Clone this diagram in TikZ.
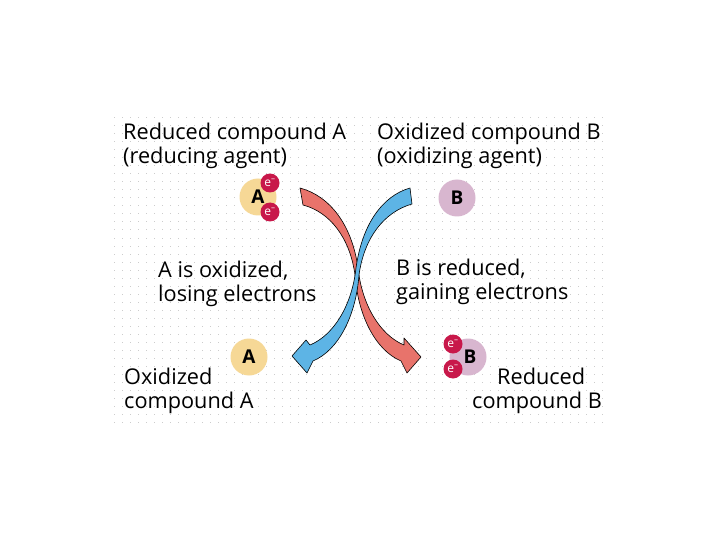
\documentclass[tikz,border=0pt]{standalone}
\usepackage[dvipsnames]{xcolor}
\usepackage{fontspec}
\setmainfont{Open Sans}
\usepackage{tikz}
\usetikzlibrary{calc}
\definecolor{redarrow}{HTML}{E8736B}
\definecolor{bluearrow}{HTML}{5DB4E5}
\definecolor{electron}{HTML}{C8184A}
\definecolor{atomA}{HTML}{F6D896}
\definecolor{atomB}{HTML}{D8B6CF}

\begin{document}
\begin{tikzpicture} [x = 1pt, y = -1pt,
                lbl/.style = {inner sep = 0pt, anchor = base west, align = left, font = \fontsize{21.7}{24}\selectfont},
                atom/.style = {circle, inner sep = 0pt, minimum size = 37pt, font = \fontsize{19}{19}\selectfont\bfseries},
                elec/.style = {circle, fill = electron, inner sep = 0pt, minimum size = 19pt, text = white, font = \fontsize{12}{12}\selectfont}]
                \useasboundingbox (0,0) rectangle (720,540);
                \fill [white] (0,0) rectangle (720,540);
                \foreach \y in {118,126,...,422}
                  \draw [black!20, line width = 1pt, dash pattern = on 1pt off 7pt] (114,\y) -- (606,\y);
                \node [lbl] (redA) at (123,164) {Reduced compound A\\(reducing agent)};
                \node [lbl] (oxB) at (377,164) {Oxidized compound B\\(oxidizing agent)};
                \node [lbl] (loseA) at (158,301) {A is oxidized,\\losing electrons};
                \node [lbl] (gainB) at (396,299) {B is reduced,\\gaining electrons};
                \node [lbl] (oxA) at (124,408) {Oxidized\\compound A};
                \node [lbl] (redB) at (472,408) {\hspace*{25pt}Reduced\\compound B};
                \node [atom, fill = atomA] (a1) at (258,197) {A};
                \foreach \n/\y in {1/183, 2/212}
                  \node [elec] (ea\n) at (270,\y) {e\textsuperscript{--}};
                \node [atom, fill = atomB] (b1) at (457,198) {B};
                \node [atom, fill = atomA] (a2) at (249,357) {A};
                \node [atom, fill = atomB] (b2) at (468,357) {\hspace*{4pt}B};
                \foreach \n/\y in {1/344, 2/369}
                  \node [elec] (eb\n) at (453,\y) {e\textsuperscript{--}};
                \filldraw [fill = redarrow, draw = black, line width = 0.6pt, line join = round]
                  (300,188) .. controls (330,196) and (352,225) .. (358,268)
                  .. controls (362,305) and (380,335) .. (404,345)
                  -- (404,338) -- (421,357) -- (407,373) -- (401,361)
                  .. controls (375,350) and (358,315) .. (355,275)
                  .. controls (350,238) and (330,212) .. (303,205) -- cycle;
                \filldraw [fill = bluearrow, draw = black, line width = 0.6pt, line join = round]
                  (410,188) .. controls (382,196) and (362,225) .. (356,268)
                  .. controls (352,305) and (334,335) .. (310,345)
                  -- (306,340) -- (292,356) -- (307,373) -- (313,361)
                  .. controls (339,350) and (356,315) .. (359,275)
                  .. controls (364,238) and (384,212) .. (412,204) -- cycle;
            \end{tikzpicture}
\end{document}
